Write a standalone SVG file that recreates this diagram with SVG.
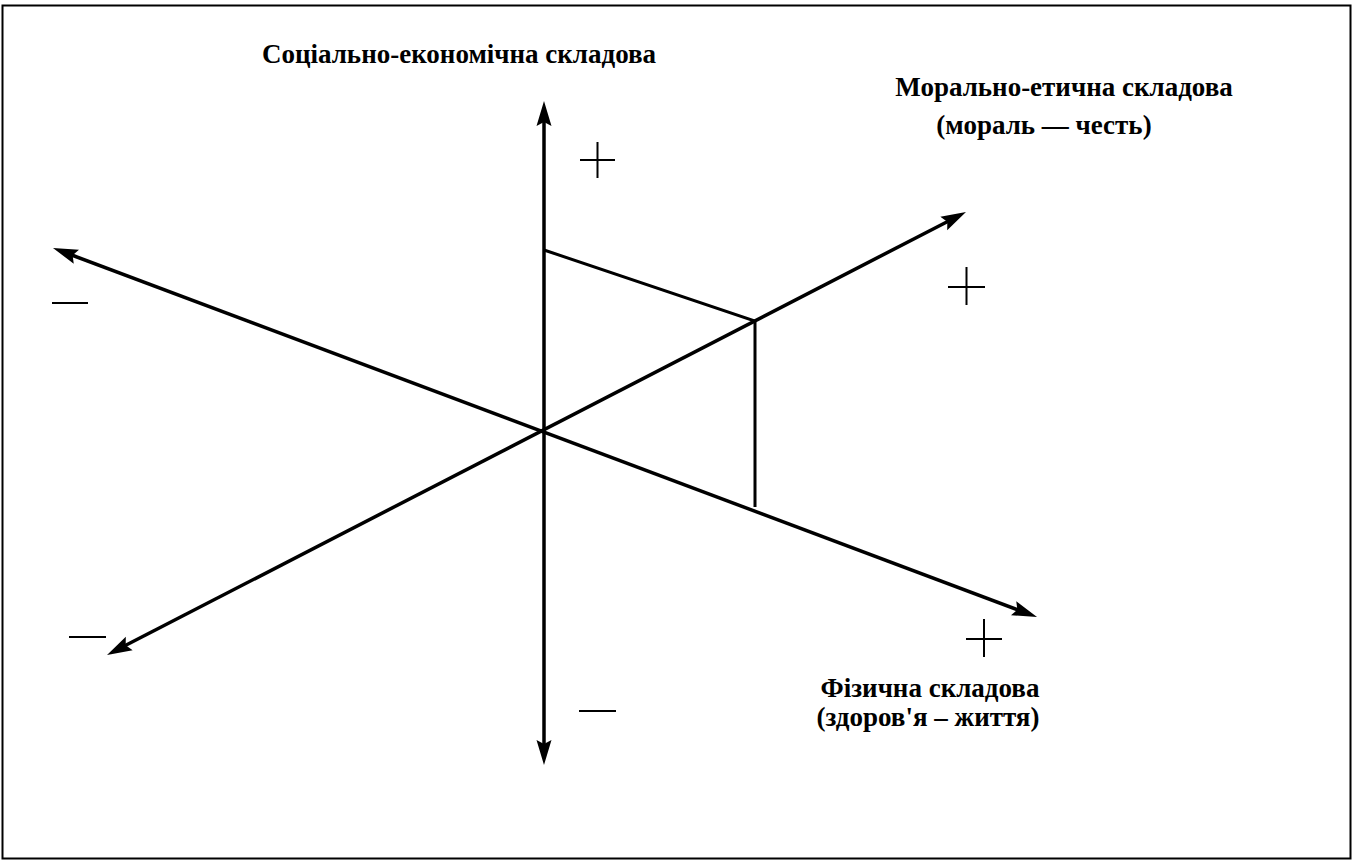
<svg xmlns="http://www.w3.org/2000/svg" width="1353" height="863" viewBox="0 0 1353 863">
<style>
.frame{fill:none;stroke:#000;stroke-width:2}
.axis{fill:none;stroke:#000;stroke-width:3.5;marker-start:url(#ah);marker-end:url(#ah)}
.proj{fill:none;stroke:#000;stroke-width:3}
.sign{fill:none;stroke:#000;stroke-width:2}
.lbl{font-family:"Liberation Serif","Times New Roman",serif;font-weight:bold;font-size:27px;fill:#000}
</style>
<defs>
<marker id="ah" viewBox="0 -8 26 16" refX="5" refY="0" markerWidth="26" markerHeight="16" markerUnits="userSpaceOnUse" orient="auto-start-reverse">
<path d="M25,0 L0,-7.5 L4,0 L0,7.5 Z" fill="#000"/>
</marker>
</defs>
<rect class="frame" x="2.5" y="5.5" width="1348" height="853"/>
<g id="connectors">
<line class="axis" x1="544" y1="121" x2="544" y2="745"/>
<line class="axis" x1="71.7" y1="255" x2="1018.3" y2="610"/>
<line class="axis" x1="124.8" y1="645.8" x2="948.2" y2="221.2"/>
<polyline class="proj" points="544,250 755,321 755,507"/>
</g>
<g id="signs">
<path class="sign" d="M580,160 H615 M597.5,142 V178"/>
<path class="sign" d="M948,287 H985 M966.5,267 V305"/>
<path class="sign" d="M966,639 H1002 M984,619 V657"/>
<path class="sign" d="M52,303 H88"/>
<path class="sign" d="M69,637 H106"/>
<path class="sign" d="M579,711 H616"/>
</g>
<g id="node-social">
<text class="lbl" x="459" y="63" text-anchor="middle">Соціально-економічна складова</text>
</g>
<g id="node-moral">
<text class="lbl" x="1064" y="96" text-anchor="middle">Морально-етична складова</text>
<text class="lbl" x="1044" y="134" text-anchor="middle">(мораль — честь)</text>
</g>
<g id="node-physical">
<text class="lbl" x="930" y="697" text-anchor="middle">Фізична складова</text>
<text class="lbl" x="928" y="726" text-anchor="middle">(здоров'я – життя)</text>
</g>
</svg>
